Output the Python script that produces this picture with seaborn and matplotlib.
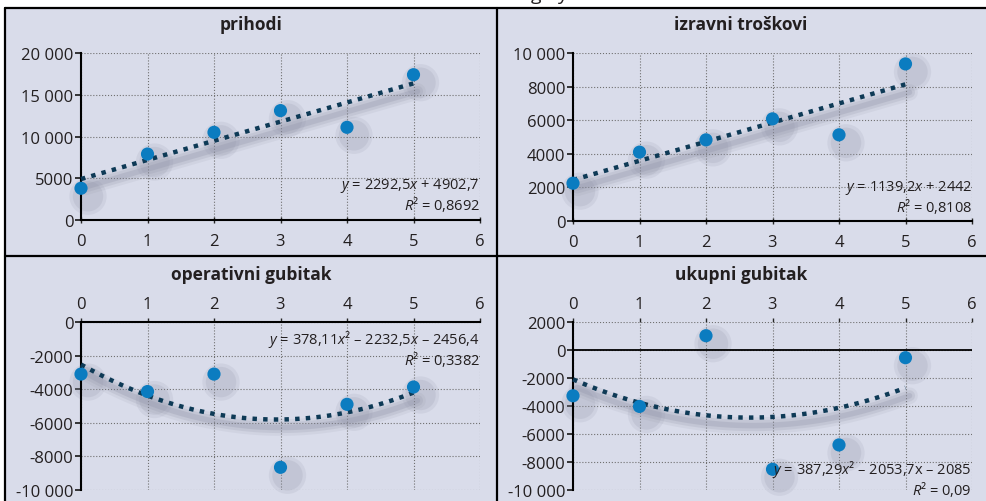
import numpy as np
import pandas as pd
import seaborn as sns
import matplotlib.pyplot as plt
from matplotlib.ticker import FuncFormatter, MultipleLocator
from matplotlib.transforms import offset_copy
from matplotlib.lines import Line2D
from matplotlib.patches import Rectangle

# data
godina = [0, 1, 2, 3, 4, 5]
prihodi = [3800, 7900, 10500, 13100, 11100, 17400]
izravni_troskovi = [2250, 4100, 4830, 6080, 5130, 9350]
operativni_gubitak = [-3100, -4140, -3100, -8650, -4900, -3870]
ukupni_gubitak = [-3270, -4030, 1020, -8520, -6780, -550]

naslovi = ["prihodi", "izravni troškovi", "operativni gubitak", "ukupni gubitak"]
jednadzbe = [
    r"$y$ = 2292,5$x$ + 4902,7" + "\n" + r"$R$² = 0,8692",
    r"$y$ = 1139,2$x$ + 2442" + "\n" + r"$R$² = 0,8108",
    r"$y$ = 378,11$x$² – 2232,5$x$ – 2456,4" + "\n" + r"$R$² = 0,3382",
    r"$y$ = 387,29$x$² – 2053,7x – 2085" + "\n" + r"$R$² = 0,09",
]

sns.set_style("ticks")
plt.rcParams["font.family"] = ["Open Sans", "DejaVu Sans"]
plt.rcParams["mathtext.fontset"] = "custom"
plt.rcParams["mathtext.rm"] = "Open Sans"
plt.rcParams["mathtext.it"] = "Open Sans:italic"
plt.rcParams["text.color"] = "#231f20"

BG = "#d9dcea"
W, H = 986, 502


def fmt(v, pos):
    n = int(round(v))
    s = f"{abs(n):,}".replace(",", " ") if abs(n) >= 10000 else str(abs(n))
    return ("-" if n < 0 else "") + s


fig = plt.figure(figsize=(W / 100, H / 100), dpi=100, facecolor="white")
fig.patches.append(Rectangle((5 / W, 0), 1, 1 - 9 / H, transform=fig.transFigure,
                             facecolor=BG, edgecolor="none", zorder=-5))

# cut-off heading at the very top
fig.text(531 / W, 1.0, "g", fontsize=14, va="baseline", ha="left")
fig.text(557 / W, 1.0, "y", fontsize=14, va="baseline", ha="left")

panels = [
    # values, order, ylim, step, rect, title centre, eq y fraction
    (prihodi, 1, (0, 20000), 5000, (81, 221, 480, 54), (251, 25), 0.155),
    (izravni_troskovi, 1, (0, 10000), 2000, (573, 222, 972, 54), (741, 25), 0.148),
    (operativni_gubitak, 2, (-10000, 0), 2000, (81, 491, 480, 323), (251, 275), 0.843),
    (ukupni_gubitak, 2, (-10000, 2000), 2000, (573, 491, 972, 323), (741, 275), 0.07),
]

for i, (vals, order, ylim, step, rect, tpos, eqy) in enumerate(panels):
    x0, yb, x1, yt = rect
    ax = fig.add_axes([x0 / W, 1 - yb / H, (x1 - x0) / W, (yb - yt) / H])
    ax.set_facecolor("none")
    df = pd.DataFrame({"x": godina, "y": vals})

    # soft shadows
    off_line = offset_copy(ax.transData, fig=fig, x=4, y=-8, units="dots")
    for lw, a in [(12, 0.10), (8, 0.16), (4, 0.22)]:
        sns.regplot(data=df, x="x", y="y", ax=ax, order=order, ci=None, scatter=False,
                    line_kws=dict(color="#83869a", lw=lw, alpha=a, clip_on=False,
                                  solid_capstyle="round", transform=off_line, zorder=1))
    off_pt = offset_copy(ax.transData, fig=fig, x=7, y=-8, units="dots")
    for s, a in [(720, 0.14), (480, 0.18)]:
        sns.scatterplot(data=df, x="x", y="y", ax=ax, s=s, color="#9093a6", alpha=a,
                        edgecolor="none", transform=off_pt, zorder=1, clip_on=False)

    # trend line and points
    sns.regplot(data=df, x="x", y="y", ax=ax, order=order, ci=None, scatter=False,
                line_kws=dict(color="#0e3a56", lw=3.2, ls=(0, (1, 1.4)),
                              dash_capstyle="butt", zorder=4, clip_on=False))
    sns.scatterplot(data=df, x="x", y="y", ax=ax, s=90, color="#0b7cc0",
                    edgecolor="none", zorder=5, clip_on=False)

    ax.set_xlim(0, 6)
    ax.set_ylim(*ylim)
    ax.xaxis.set_major_locator(MultipleLocator(1))
    ax.yaxis.set_major_locator(MultipleLocator(step))
    ax.yaxis.set_major_formatter(FuncFormatter(fmt))
    ax.set_xlabel("")
    ax.set_ylabel("")
    ax.grid(True, ls=":", lw=0.8, color="#707070")

    for sp in ax.spines.values():
        sp.set_visible(False)
        sp.set_linewidth(1.5)
        sp.set_color("black")
    ax.spines["left"].set_visible(True)
    ax.tick_params(axis="y", direction="out", length=4.5, width=1.3, pad=1,
                   labelsize=12, labelcolor="#231f20")
    if i < 2:
        ax.spines["bottom"].set_visible(True)
        ax.tick_params(axis="x", direction="inout", length=5, width=1, pad=7,
                       labelsize=12, labelcolor="#231f20")
    else:
        ax.xaxis.tick_top()
        ax.tick_params(axis="x", direction="out", length=3, width=1, pad=4,
                       labelsize=12, labelcolor="#231f20")
        if i == 2:
            ax.spines["top"].set_visible(True)
        else:
            ax.axhline(0, color="black", lw=1.3, zorder=2)

    fig.text(tpos[0] / W, 1 - tpos[1] / H, naslovi[i], ha="center", va="center",
             fontsize=12.5, fontweight="bold")
    ax.text(1.0, eqy, jednadzbe[i], transform=ax.transAxes, ha="right",
            va="center", multialignment="right", linespacing=1.0,
            fontsize=10.5, zorder=6)

# panel frame
kw = dict(transform=fig.transFigure, color="black", lw=1.6, zorder=10)
fig.lines.append(Line2D([5 / W, 1], [1 - 9 / H, 1 - 9 / H], **kw))
fig.lines.append(Line2D([5 / W, 1], [1 - 257 / H, 1 - 257 / H], **kw))
fig.lines.append(Line2D([5 / W, 5 / W], [0, 1 - 9 / H], **kw))
fig.lines.append(Line2D([497 / W, 497 / W], [0, 1 - 9 / H], **kw))

fig.savefig("out.png", dpi=100, facecolor=fig.get_facecolor())
